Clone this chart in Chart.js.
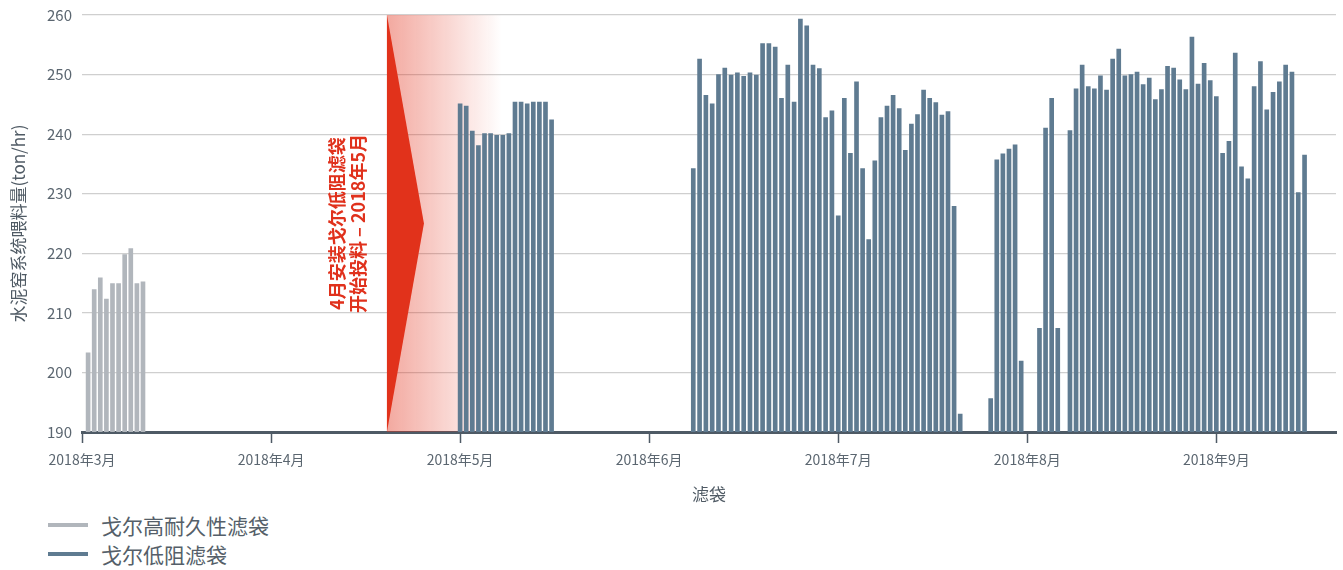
<!DOCTYPE html>
<html>
<head>
<meta charset="utf-8">
<script src="https://cdn.jsdelivr.net/npm/chart.js@4.4.1/dist/chart.umd.min.js"></script>
<style>
    body { margin: 0; background: #fff; font-family: "Noto Sans CJK SC", sans-serif; }
    #wrap { position: relative; width: 1343px; height: 510px; }
    #legend { position: absolute; left: 48px; top: 510px; }
    .item { display: flex; align-items: center; height: 29px; font-size: 21px; color: #555f69; }
    .item .line { display: inline-block; width: 40px; height: 4px; margin-right: 13px; }
</style>
</head>
<body>
<div id="wrap"><canvas id="chart"></canvas></div>
<div id="legend"></div>
<script>
// month ticks (x axis runs Mar -> Sep 2018)
var monthLabels = ['2018年3月', '2018年4月', '2018年5月', '2018年6月', '2018年7月', '2018年8月', '2018年9月'];
var yTicks = [190, 200, 210, 220, 230, 240, 250, 260];

var seriesNames = ['戈尔高耐久性滤袋', '戈尔低阻滤袋'];
var noteLines = ['4月安装戈尔低阻滤袋', '开始投料 – 2018年5月'];

// daily feed rate, ton/hr
var grayStart = [2018, 3, 2];
var grayValues = [203.3, 213.9, 215.9, 212.3, 214.9, 214.9, 219.8, 220.8, 214.9, 215.2];

var mayStart = [2018, 5, 1];
var mayValues = [245.1, 244.7, 240.5, 238.1, 240.1, 240.1, 239.8, 239.8, 240.1, 245.4,
                 245.4, 245.1, 245.4, 245.4, 245.4, 242.4];

var junJulStart = [2018, 6, 8];
var junJulValues = [234.2, 252.6, 246.5, 245.1, 250.0, 251.1, 249.9, 250.3, 249.7, 250.3,
                    249.9, 255.2, 255.2, 254.6, 246.0, 251.6, 245.4, 259.3, 258.2, 251.6,
                    251.0, 242.8, 243.9, 226.3, 246.0, 236.8, 248.8, 234.2, 222.3, 235.5,
                    242.8, 244.7, 246.5, 244.3, 237.3, 241.7, 243.3, 247.4, 246.0, 245.3,
                    243.2, 243.8, 227.9, 193.0];

var julSepStart = [2018, 7, 26];
var julSepValues = [195.6, 235.7, 236.7, 237.5, 238.2, 201.9, null, null, 207.4, 241.0,
                    246.0, 207.4, null, 240.6, 247.6, 251.6, 248.0, 247.6, 249.8, 247.4,
                    252.6, 254.3, 249.8, 250.0, 250.4, 248.3, 249.4, 245.8, 247.5, 251.4,
                    251.1, 249.1, 247.5, 256.3, 248.4, 251.9, 249.0, 246.3, 236.8, 238.8,
                    253.6, 234.5, 232.5, 248.0, 252.2, 244.1, 247.0, 248.8, 251.6, 250.4,
                    230.2, 236.5];

var grayColor = '#b1b6bc';
var blueColor = '#5f7b91';

// x value = months since 1 Mar + fraction of the month
function toX(y, m, d) {
    var dt = new Date(y, m - 1, d);
    var days = new Date(dt.getFullYear(), dt.getMonth() + 1, 0).getDate();
    return (dt.getMonth() - 2) + (dt.getDate() - 1) / days;
}

function run(start, values) {
    var pts = [];
    values.forEach(function (v, i) {
        if (v === null) return;
        pts.push({ x: toX(start[0], start[1], start[2] + i), y: v });
    });
    return pts;
}

var installX = 1.613;  // ~19 Apr, where the new bags went in

var installPlugin = {
    id: 'install',
    beforeDatasetsDraw: function (chart) {
        var ctx = chart.ctx, a = chart.chartArea, x = chart.scales.x;
        var x0 = x.getPixelForValue(installX);
        var midY = (a.top + a.bottom) / 2;
        ctx.save();
        var g = ctx.createLinearGradient(x0, 0, x0 + 115, 0);
        g.addColorStop(0, 'rgba(226,50,28,0.42)');
        g.addColorStop(1, 'rgba(226,50,28,0)');
        ctx.fillStyle = g;
        ctx.fillRect(x0, a.top, 115, a.bottom - a.top);

        ctx.fillStyle = '#e1321b';
        ctx.beginPath();
        ctx.moveTo(x0, a.top);
        ctx.lineTo(x0 + 37, midY);
        ctx.lineTo(x0, a.bottom);
        ctx.closePath();
        ctx.fill();

        ctx.translate(x0 - 39.5, midY);
        ctx.rotate(-Math.PI / 2);
        ctx.fillStyle = '#e0311c';
        ctx.font = 'bold 18px "Noto Sans CJK SC"';
        ctx.textAlign = 'center';
        ctx.textBaseline = 'middle';
        ctx.fillText(noteLines[0], 0, -10.5);
        ctx.fillText(noteLines[1], 0, 10.5);
        ctx.restore();
    }
};

var tickColor = '#5b6670';

var chart = new Chart(document.getElementById('chart'), {
    type: 'bar',
    data: {
        datasets: [{
            label: seriesNames[0],
            data: run(grayStart, grayValues),
            backgroundColor: grayColor
        }, {
            label: seriesNames[1],
            data: run(mayStart, mayValues)
                .concat(run(junJulStart, junJulValues))
                .concat(run(julSepStart, julSepValues)),
            backgroundColor: blueColor
        }]
    },
    options: {
        animation: false,
        maintainAspectRatio: false,
        grouped: false,
        barThickness: 4,
        layout: { padding: { top: 15, right: 7, left: 0, bottom: 0 } },
        plugins: {
            legend: { display: false },
            tooltip: { enabled: false }
        },
        scales: {
            x: {
                type: 'linear',
                min: 0,
                max: 6.633,
                offset: false,
                afterBuildTicks: function (s) {
                    s.ticks = monthLabels.map(function (_, i) { return { value: i }; });
                },
                afterFit: function (s) { s.height = 78; },
                grid: {
                    offset: false,
                    drawOnChartArea: false,
                    drawTicks: true,
                    tickLength: 11,
                    tickColor: '#4e5a65',
                    tickWidth: 1.5
                },
                border: { display: true, color: '#4e5a65', width: 3 },
                ticks: {
                    autoSkip: false,
                    maxRotation: 0,
                    padding: 8,
                    color: tickColor,
                    font: { family: '"Noto Sans CJK SC"', size: 14 },
                    callback: function (v, i) { return monthLabels[i]; }
                },
                title: {
                    display: true,
                    text: '滤袋',
                    color: '#4f5a64',
                    font: { family: '"Noto Sans CJK SC"', size: 17 },
                    padding: { top: 0, bottom: 5 }
                }
            },
            y: {
                min: 190,
                max: 260,
                afterBuildTicks: function (s) {
                    s.ticks = yTicks.map(function (v) { return { value: v }; });
                },
                afterFit: function (s) { s.width = 82; },
                grid: {
                    color: '#cfcfcf',
                    lineWidth: 1.2,
                    drawTicks: true,
                    tickLength: 10,
                    tickColor: 'rgba(0,0,0,0)'
                },
                border: { display: false },
                ticks: {
                    padding: 0,
                    color: tickColor,
                    font: { family: '"Noto Sans CJK SC"', size: 15 }
                },
                title: {
                    display: true,
                    text: '水泥窑系统喂料量(ton/hr)',
                    color: '#4f5a64',
                    font: { family: '"Noto Sans CJK SC"', size: 17 },
                    padding: { top: 8, bottom: 0 }
                }
            }
        }
    },
    plugins: [installPlugin]
});

// legend: line swatches stacked under the chart
var legendBox = document.getElementById('legend');
chart.data.datasets.forEach(function (ds) {
    var row = document.createElement('div');
    row.className = 'item';
    var sw = document.createElement('span');
    sw.className = 'line';
    sw.style.background = ds.backgroundColor;
    row.appendChild(sw);
    row.appendChild(document.createTextNode(ds.label));
    legendBox.appendChild(row);
});
</script>
</body>
</html>
